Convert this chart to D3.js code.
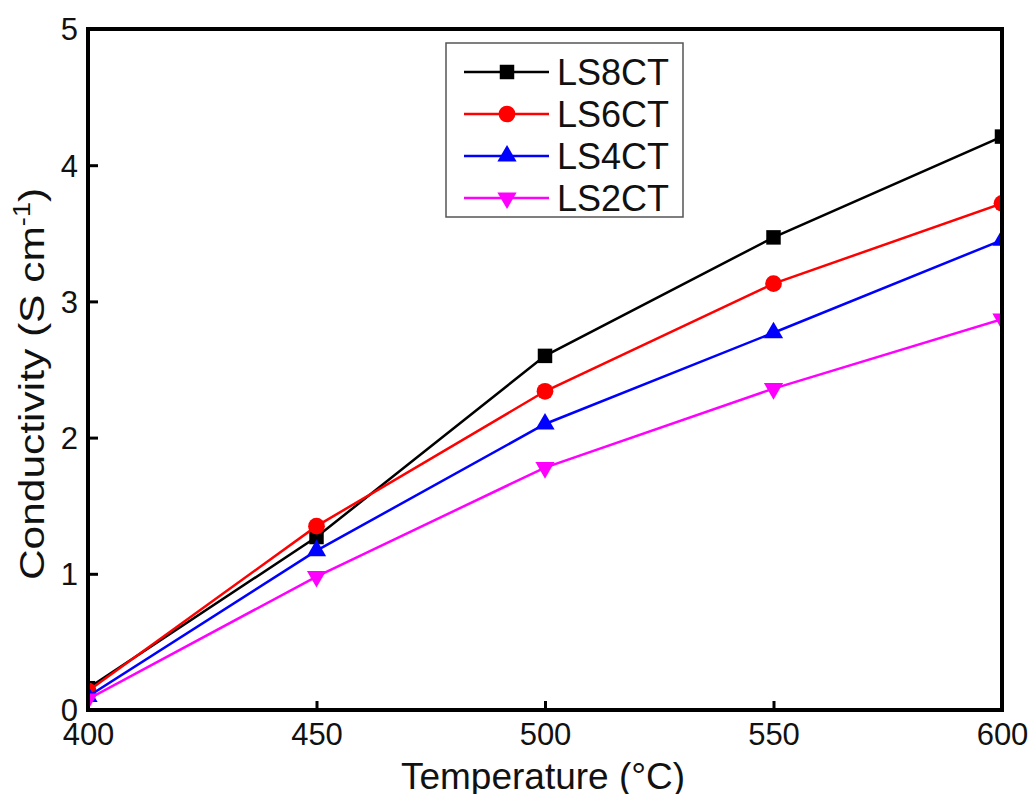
<!DOCTYPE html>
<html>
<head>
<meta charset="utf-8">
<script src="https://d3js.org/d3.v7.min.js"></script>
<style>
  body { margin: 0; background: #fff; }
  text { font-family: "Liberation Sans", Arial, sans-serif; }
</style>
</head>
<body>
<div id="chart"></div>
<script>
// data
var temps = [400, 450, 500, 550, 600];
var ls8ct = [0.16, 1.27, 2.60, 3.47, 4.21];
var ls6ct = [0.14, 1.35, 2.34, 3.13, 3.72];
var ls4ct = [0.10, 1.17, 2.10, 2.77, 3.45];
var ls2ct = [0.08, 0.98, 1.78, 2.36, 2.87];
var names = ["LS8CT", "LS6CT", "LS4CT", "LS2CT"];
var xTicks = [400, 450, 500, 550, 600];
var yTicks = [0, 1, 2, 3, 4, 5];

var w = 1033, h = 794;
var pLeft = 88, pRight = 1002, pTop = 29, pBottom = 710;

var series = [
  { name: names[0], values: ls8ct, color: "#000000", symbol: d3.symbolSquare, size: 210, rot: 0 },
  { name: names[1], values: ls6ct, color: "#ff0000", symbol: d3.symbolCircle, size: 220, rot: 0 },
  { name: names[2], values: ls4ct, color: "#0000ff", symbol: d3.symbolTriangle, size: 160, rot: 0 },
  { name: names[3], values: ls2ct, color: "#ff00ff", symbol: d3.symbolTriangle, size: 160, rot: 180 }
];

var x = d3.scaleLinear().domain([400, 600]).range([pLeft, pRight]);
var y = d3.scaleLinear().domain([0, 5]).range([pBottom, pTop]);

var svg = d3.select("#chart").append("svg")
    .attr("width", w)
    .attr("height", h);

svg.append("clipPath").attr("id", "clip")
    .append("rect").attr("x", pLeft).attr("y", pTop)
    .attr("width", pRight - pLeft).attr("height", pBottom - pTop);

// lines and markers
var line = d3.line()
    .x(function(d, i) { return x(temps[i]); })
    .y(function(d) { return y(d); });

var markGroup = svg.append("g").attr("clip-path", "url(#clip)");
series.forEach(function(s) {
  markGroup.append("path")
      .attr("d", line(s.values))
      .attr("fill", "none")
      .attr("stroke", s.color)
      .attr("stroke-width", 2.5);
  markGroup.selectAll(null)
      .data(s.values)
      .enter()
      .append("path")
      .attr("d", d3.symbol().type(s.symbol).size(s.size))
      .attr("transform", function(d, i) {
        return "translate(" + x(temps[i]) + "," + y(d) + ") rotate(" + s.rot + ")";
      })
      .attr("fill", s.color);
});

// axes (ticks inward)
var xAxis = d3.axisBottom(x).tickValues(xTicks).tickSize(-9).tickPadding(13).tickFormat(d3.format("d"));
var yAxis = d3.axisLeft(y).tickValues(yTicks).tickSize(-10).tickPadding(10).tickFormat(d3.format("d"));

var gx = svg.append("g").attr("transform", "translate(0," + pBottom + ")").call(xAxis);
var gy = svg.append("g").attr("transform", "translate(" + pLeft + ",0)").call(yAxis);
[gx, gy].forEach(function(g) {
  g.select(".domain").remove();
  g.selectAll(".tick line").attr("stroke", "#000").attr("stroke-width", 3);
  g.selectAll(".tick text").attr("font-size", "31px").attr("fill", "#111");
});
gx.selectAll(".tick text").attr("dy", "0.71em");
gy.selectAll(".tick text").attr("dy", "0.35em");

// frame
svg.append("rect")
    .attr("x", pLeft).attr("y", pTop)
    .attr("width", pRight - pLeft).attr("height", pBottom - pTop)
    .attr("fill", "none")
    .attr("stroke", "#000")
    .attr("stroke-width", 4);

// axis titles
svg.append("text")
    .attr("x", 543)
    .attr("y", 789)
    .attr("text-anchor", "middle")
    .attr("font-size", "37px")
    .attr("fill", "#111")
    .text("Temperature (°C)");

var yt = svg.append("text")
    .attr("transform", "translate(44,384) rotate(-90) scale(1.18,1)")
    .attr("text-anchor", "middle")
    .attr("font-size", "36px")
    .attr("fill", "#111");
yt.append("tspan").text("Conductivity (S cm");
yt.append("tspan").attr("dy", "-14").attr("font-size", "23px").text("-1");
yt.append("tspan").attr("dy", "14").text(")");

// legend
var legend = svg.append("g");
legend.append("rect")
    .attr("x", 446).attr("y", 43)
    .attr("width", 237).attr("height", 174)
    .attr("fill", "#fff")
    .attr("stroke", "#555")
    .attr("stroke-width", 1.5);

series.forEach(function(s, i) {
  var ly = 72 + i * 42;
  legend.append("line")
      .attr("x1", 464).attr("x2", 549)
      .attr("y1", ly).attr("y2", ly)
      .attr("stroke", s.color)
      .attr("stroke-width", 2.5);
  legend.append("path")
      .attr("d", d3.symbol().type(s.symbol).size(s.size))
      .attr("transform", "translate(507," + ly + ") rotate(" + s.rot + ")")
      .attr("fill", s.color);
  legend.append("text")
      .attr("x", 557).attr("y", ly)
      .attr("dy", "0.36em")
      .attr("font-size", "36px")
      .attr("fill", "#111")
      .text(s.name);
});
</script>
</body>
</html>
